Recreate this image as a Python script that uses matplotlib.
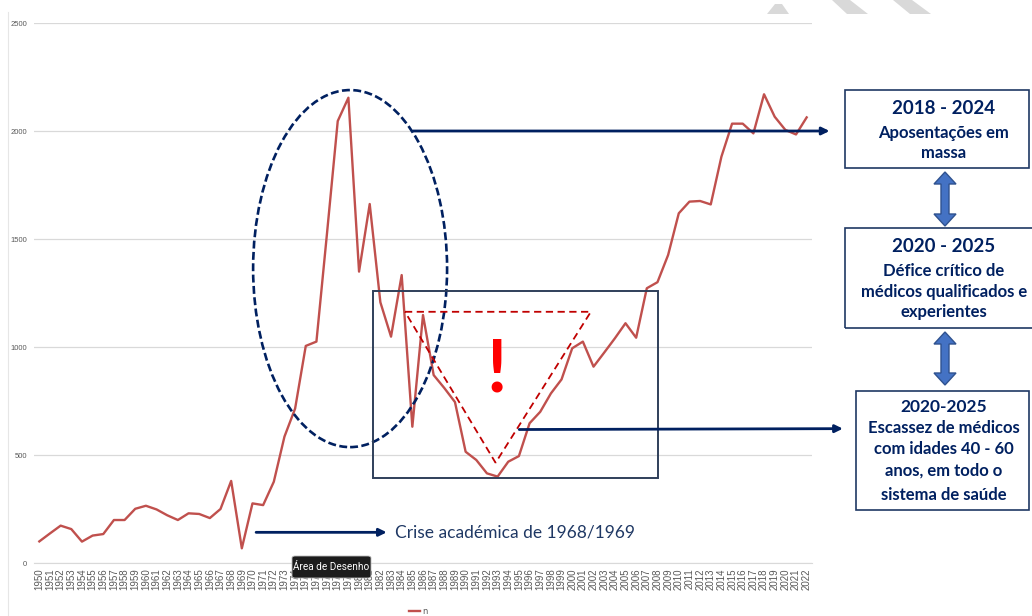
import matplotlib
matplotlib.use("Agg")
import matplotlib.pyplot as plt
from matplotlib.patches import Ellipse, Rectangle, Polygon, FancyBboxPatch
from matplotlib.lines import Line2D

W, H = 1032, 616

years = list(range(1950, 2023))
values = [100, 137, 173, 157, 99, 127, 134, 199, 199, 251,
          265, 248, 221, 199, 230, 227, 208, 250, 380, 68,
          276, 268, 376, 585, 715, 1005, 1025, 1530, 2046, 2154,
          1349, 1662, 1207, 1048, 1333, 631, 1148, 870, 810, 745,
          515, 477, 415, 400, 469, 495, 647, 700, 785, 850,
          994, 1025, 909, 974, 1040, 1110, 1043, 1272, 1300, 1426,
          1619, 1673, 1676, 1660, 1881, 2034, 2034, 1989, 2170, 2066,
          2005, 1984, 2063]
yticks = [0, 500, 1000, 1500, 2000, 2500]
series_name = "n"

NAVY = "#002060"
BOXNAVY = "#1f3864"
RED = "#c0504d"
GREY = "#595959"
FONT = ["Lato", "DejaVu Sans"]


def fp(x, y):
    # pixel position in the picture -> figure fraction
    return (x / W, 1 - y / H)


fig = plt.figure(figsize=(W / 100, H / 100), dpi=100)
ax = fig.add_axes([34 / W, 1 - 563 / H, 778 / W, 540 / H])

line, = ax.plot(years, values, color=RED, lw=1.7, zorder=3)
ax.set_xlim(1949.5, 2022.5)
ax.set_ylim(0, 2500)
ax.set_yticks(yticks)
ax.set_yticklabels([str(v) for v in yticks], fontsize=5.5, color=GREY,
                   family=["Liberation Sans"])
ax.set_xticks(years)
ax.set_xticklabels([str(y) for y in years], rotation=90, fontsize=7,
                   color=GREY, family=["Liberation Sans"])
ax.tick_params(length=0)
ax.tick_params(axis="x", pad=4)
ax.tick_params(axis="y", pad=5)
ax.grid(axis="y", color="#d9d9d9", lw=0.9, zorder=0)
ax.set_axisbelow(True)
for s in ["top", "right", "left"]:
    ax.spines[s].set_visible(False)
ax.spines["bottom"].set_color("#d9d9d9")

# ---- annotations over the curve ----
ax.add_patch(Ellipse((1979.16, 1363), 18.2, 1653, fill=False, ec=NAVY,
                     lw=1.9, ls=(0, (3, 1.3)), zorder=4, clip_on=False))
ax.add_patch(Rectangle((1981.35, 392), 26.7, 868, fill=False, ec="#2f3f5a",
                       lw=1.4, zorder=4))
ax.add_patch(Polygon([(1984.31, 1163), (2001.75, 1163), (1992.81, 464)],
                     closed=True, fill=False, ec="#c00000", lw=1.3,
                     ls=(0, (4, 2.5)), zorder=4))
ax.text(1992.9, 890, "!", fontsize=52, fontweight="bold", color="#ff0000",
        ha="center", va="center", family=FONT, zorder=5)

arrow = dict(arrowstyle="-|>,head_length=0.45,head_width=0.22", color=NAVY,
             lw=2, shrinkA=0, shrinkB=0)
ax.annotate("", xy=(2024.15, 2000), xytext=(1985.06, 2000),
            arrowprops=arrow, annotation_clip=False, zorder=5)
ax.annotate("", xy=(2025.4, 622), xytext=(1995.03, 618),
            arrowprops=arrow, annotation_clip=False, zorder=5)
ax.annotate("", xy=(1982.6, 142), xytext=(1970.34, 142),
            arrowprops=arrow, annotation_clip=False, zorder=5)
ax.text(1983.4, 142, "Crise académica de 1968/1969", fontsize=12.5,
        color=BOXNAVY, ha="left", va="center", family=FONT)

# ---- boxes on the right ----
boxes = [
    (845, 90, 1029, 168, [("2018 - 2024", 108, 13.5), ("Aposentações em", 133, 12),
                          ("massa", 153, 12)]),
    (845, 228, 1040, 328, [("2020 - 2025", 247, 13.5), ("Défice crítico de", 271.5, 12),
                           ("médicos qualificados e", 291.5, 12),
                           ("experientes", 312, 12)]),
    (856, 391, 1029, 510, [("2020-2025", 407, 12.5), ("Escassez de médicos", 428, 12),
                           ("com idades 40 - 60", 449, 12),
                           ("anos, em todo o", 471, 12),
                           ("sistema de saúde", 495, 12)]),
]
for x0, y0, x1, y1, lines in boxes:
    fig.add_artist(Rectangle(fp(x0, y1), (x1 - x0) / W, (y1 - y0) / H,
                             transform=fig.transFigure, fill=False,
                             ec=BOXNAVY, lw=1.2))
    for txt, ty, fs in lines:
        fig.text(944 / W, 1 - ty / H, txt, fontsize=fs, fontweight="bold",
                 color=NAVY, ha="center", va="center", family=FONT)


def double_arrow(cx, ya, yb):
    pts = [(cx, ya), (cx + 11, ya + 12), (cx + 4, ya + 12), (cx + 4, yb - 12),
           (cx + 11, yb - 12), (cx, yb), (cx - 11, yb - 12), (cx - 4, yb - 12),
           (cx - 4, ya + 12), (cx - 11, ya + 12)]
    fig.add_artist(Polygon([fp(x, y) for x, y in pts], closed=True,
                           transform=fig.transFigure, fc="#4472c4",
                           ec="#2f528f", lw=1))


double_arrow(945, 172, 226)
double_arrow(945, 332, 385)

# ---- page decorations (grey stripes, chart border, tooltip) ----
for poly in [[(767, 14), (775, 4), (782, 4), (789, 14)],
             [(832, 0), (850, 0), (868, 14), (847, 14)],
             [(893, 0), (912, 0), (931, 14), (910, 14)]]:
    fig.add_artist(Polygon([fp(x, y) for x, y in poly], closed=True,
                           transform=fig.transFigure, fc="#d9d9d9", ec="none"))
fig.add_artist(Line2D([8 / W, 8 / W], [0, 1 - 12 / H], transform=fig.transFigure,
                      color="#e6e6e6", lw=0.8))

fig.add_artist(FancyBboxPatch(fp(292, 578), 79 / W, 22 / H,
                              boxstyle="round,pad=0,rounding_size=0.003",
                              transform=fig.transFigure, fc="#1c1c1c",
                              ec="#bbbbbb", lw=0.6, zorder=10))
fig.text(331.5 / W, 1 - 567 / H, "Área de Desenho", fontsize=7.2, color="white",
         ha="center", va="center", zorder=11, family=["Roboto"])

fig.legend(handles=[line], labels=[series_name], loc="center",
           bbox_to_anchor=fp(418, 611), frameon=False, fontsize=6,
           handlelength=1.4, handletextpad=0.2, labelcolor=GREY)

fig.savefig("out.png", dpi=100)
